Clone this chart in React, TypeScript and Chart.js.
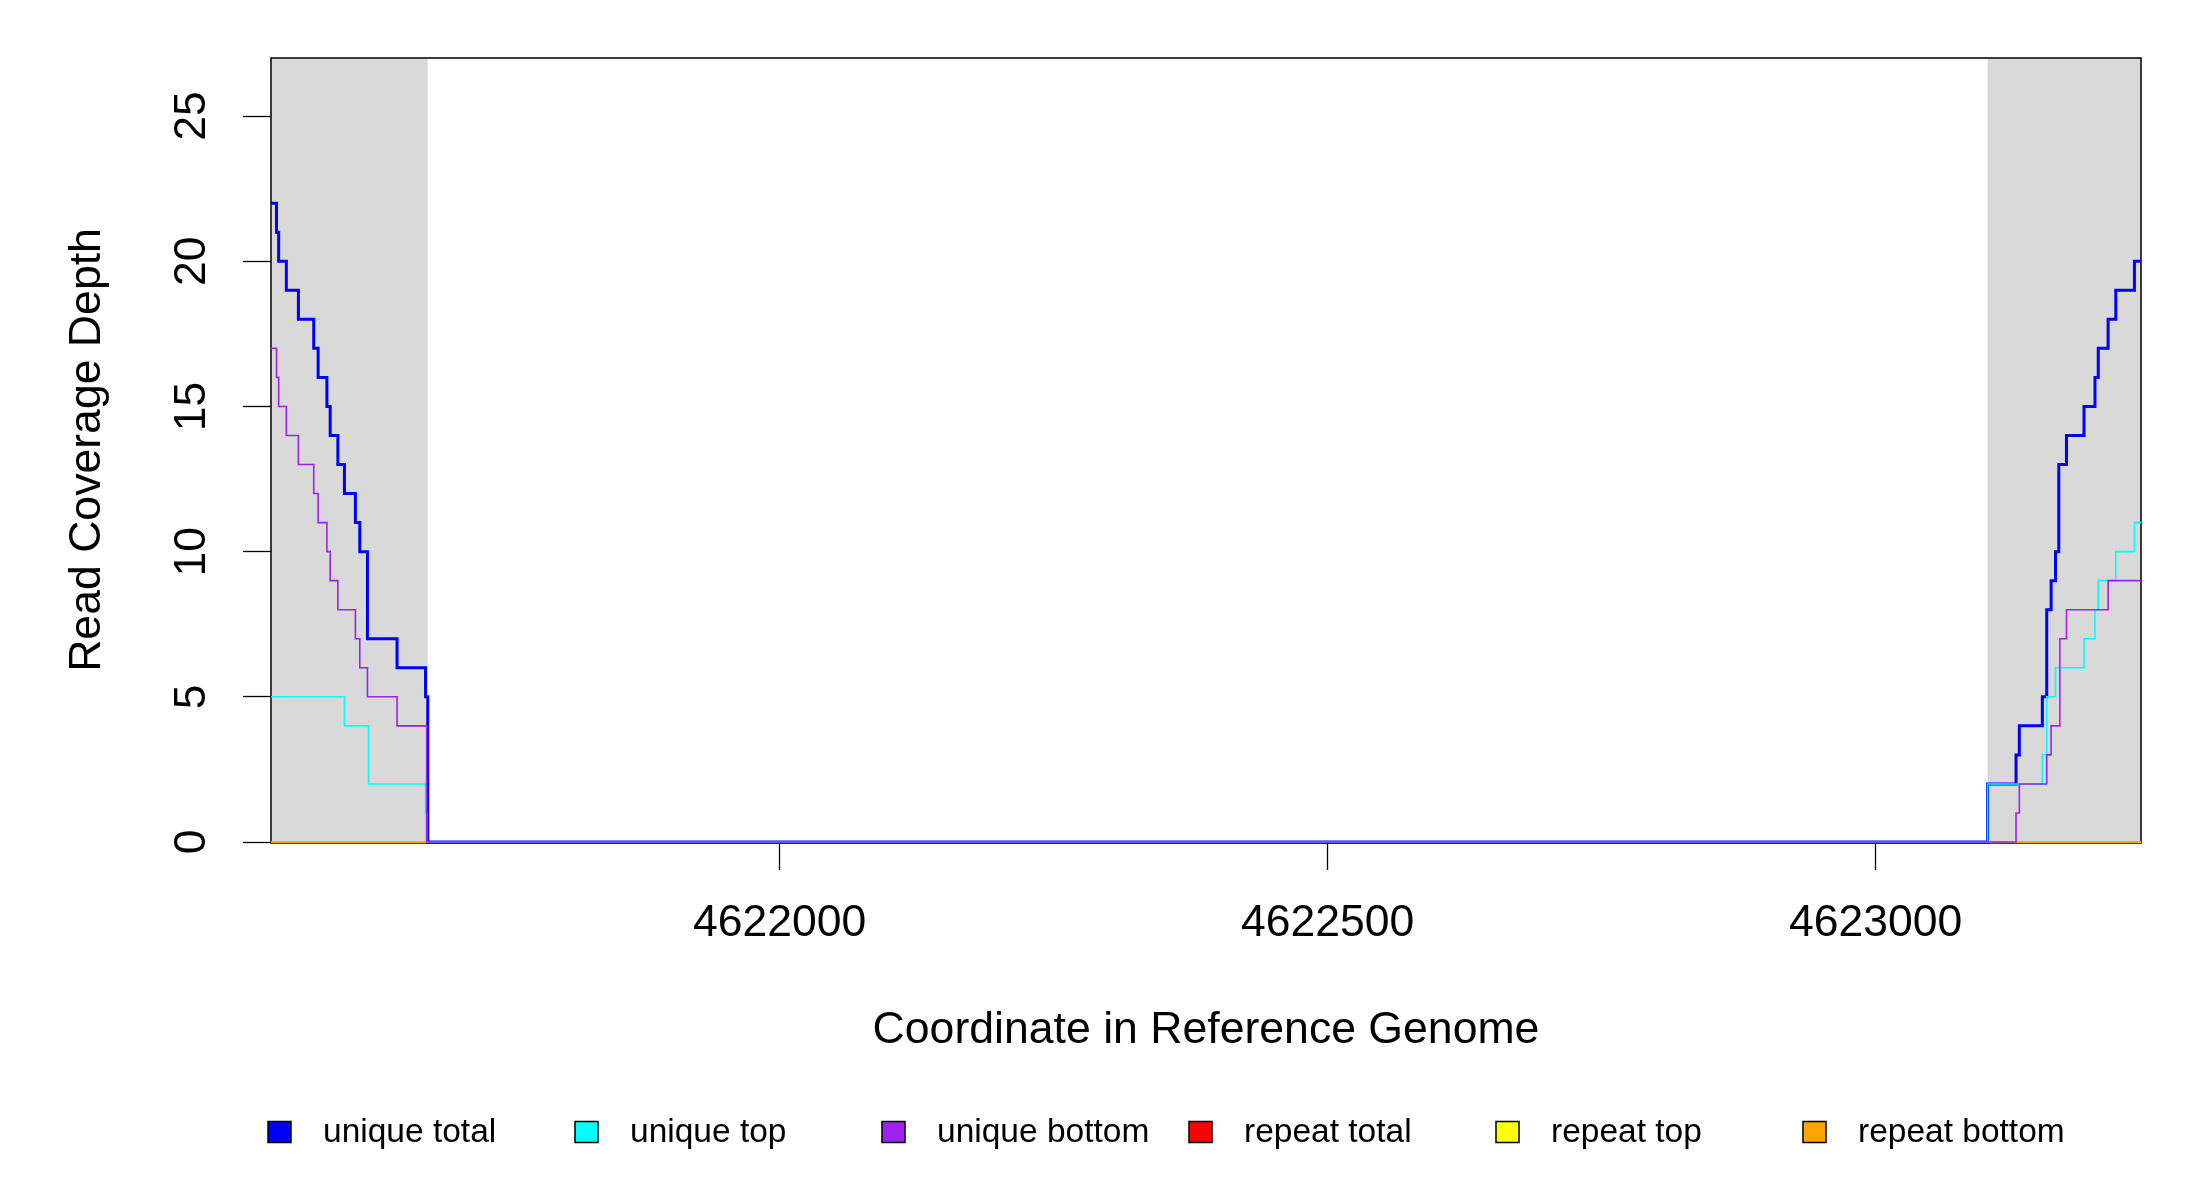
import React, { useEffect, useRef } from "react";
import { Chart, registerables } from "chart.js";

Chart.register(...registerables);

// ---- data ----
const xMin = 4621536;
const xMax = 4623242;
const xTickValues = [4622000, 4622500, 4623000];
const yTickValues = [0, 5, 10, 15, 20, 25];
const yMax = 27;
const flankLeft = [4621536, 4621679];
const flankRight = [4623102, 4623242];

const uniqueTotalX = [4621536, 4621541, 4621543, 4621550, 4621561, 4621575, 4621579, 4621587, 4621590, 4621597, 4621603, 4621613, 4621617, 4621624, 4621651, 4621677, 4621679, 4623102, 4623128, 4623131, 4623152, 4623156, 4623160, 4623164, 4623167, 4623174, 4623190, 4623200, 4623203, 4623212, 4623219, 4623236, 4623242];
const uniqueTotalY = [22, 21, 20, 19, 18, 17, 16, 15, 14, 13, 12, 11, 10, 7, 6, 5, 0, 2, 3, 4, 5, 8, 9, 10, 13, 14, 15, 16, 17, 18, 19, 20, 20];

const uniqueTopX = [4621536, 4621603, 4621625, 4621677, 4621678, 4623102, 4623152, 4623156, 4623164, 4623190, 4623200, 4623203, 4623219, 4623236, 4623242];
const uniqueTopY = [5, 4, 2, 1, 0, 2, 3, 5, 6, 7, 8, 9, 10, 11, 11];

const uniqueBottomX = [4621536, 4621541, 4621543, 4621550, 4621561, 4621575, 4621579, 4621587, 4621590, 4621597, 4621613, 4621617, 4621624, 4621651, 4621678, 4623128, 4623131, 4623156, 4623160, 4623168, 4623174, 4623212, 4623242];
const uniqueBottomY = [17, 16, 15, 14, 13, 12, 11, 10, 9, 8, 7, 6, 5, 4, 0, 1, 2, 3, 4, 7, 8, 9, 9];

const repeatX = [4621536, 4621679, 4621680, 4623102, 4623242];
const repeatTotalY = [0, 0, null, 0, 0];
const repeatTopY = [0, 0, null, 0, 0];
const repeatBottomY = [0, 0, null, 0, 0];

const legendLabels = ["unique total", "unique top", "unique bottom", "repeat total", "repeat top", "repeat bottom"];
const seriesColors = ["#0000ff", "#00ffff", "#a020f0", "#ff0000", "#ffff00", "#ffa500"];

const FONT = "'Liberation Sans', Arial, Helvetica, sans-serif";

function pts(xs: number[], ys: (number | null)[]) {
  return xs.map((x, i) => ({ x, y: ys[i] }));
}

const shadePlugin = {
  id: "shade",
  beforeDatasetsDraw(chart: any) {
    const { ctx, chartArea } = chart;
    const xs = chart.scales.x;
    ctx.save();
    ctx.fillStyle = "#d9d9d9";
    [flankLeft, flankRight].forEach((f) => {
      const a = xs.getPixelForValue(f[0]);
      const b = xs.getPixelForValue(f[1]);
      ctx.fillRect(a, chartArea.top, b - a, chartArea.bottom - chartArea.top);
    });
    ctx.strokeStyle = "#000";
    ctx.lineWidth = 1.5;
    ctx.strokeRect(chartArea.left, chartArea.top, chartArea.right - chartArea.left, chartArea.bottom - chartArea.top + 1);
    ctx.restore();
  },
  afterDraw(chart: any) {
    const { ctx, chartArea } = chart;
    ctx.save();
    const y = 1132;
    const spacing = 307;
    const x0 = chartArea.left - 3;
    ctx.font = `33.5px ${FONT}`;
    ctx.textBaseline = "middle";
    ctx.textAlign = "left";
    legendLabels.forEach((lab, i) => {
      const bx = x0 + i * spacing;
      ctx.fillStyle = seriesColors[i];
      ctx.fillRect(bx, y - 10.5, 23, 21);
      ctx.strokeStyle = "#000";
      ctx.lineWidth = 1.5;
      ctx.strokeRect(bx, y - 10.5, 23, 21);
      ctx.fillStyle = "#000";
      ctx.fillText(lab, bx + 55, y + 1);
    });
    ctx.restore();
  },
};

export default function App() {
  const ref = useRef<HTMLCanvasElement | null>(null);
  useEffect(() => {
    if (!ref.current) return;
    const mk = (label: string, data: any[], color: string, width: number, order: number) => ({
      label,
      data,
      borderColor: color,
      backgroundColor: color,
      borderWidth: width,
      pointRadius: 0,
      stepped: true,
      fill: false,
      spanGaps: false,
      clip: 10,
      order,
    });
    const chart = new Chart(ref.current, {
      type: "line",
      data: {
        datasets: [
          mk(legendLabels[0], pts(uniqueTotalX, uniqueTotalY), seriesColors[0], 3, 2),
          mk(legendLabels[1], pts(uniqueTopX, uniqueTopY), seriesColors[1], 1.6, 1),
          mk(legendLabels[2], pts(uniqueBottomX, uniqueBottomY), seriesColors[2], 1.6, 0),
          mk(legendLabels[3], pts(repeatX, repeatTotalY), seriesColors[3], 2, 5),
          mk(legendLabels[4], pts(repeatX, repeatTopY), seriesColors[4], 2, 4),
          mk(legendLabels[5], pts(repeatX, repeatBottomY), seriesColors[5], 2, 3),
        ] as any,
      },
      options: {
        animation: false,
        responsive: false,
        devicePixelRatio: 1,
        events: [],
        layout: { padding: { top: 58, right: 59, left: 0, bottom: 0 } },
        plugins: { legend: { display: false }, tooltip: { enabled: false }, title: { display: false } },
        scales: {
          x: {
            type: "linear",
            min: xMin,
            max: xMax,
            afterBuildTicks: (s: any) => {
              s.ticks = xTickValues.map((v) => ({ value: v }));
            },
            afterFit: (s: any) => {
              s.height = 358;
            },
            grid: { display: true, drawOnChartArea: false, drawTicks: true, tickLength: 28, tickColor: "#000", tickWidth: 1.3 },
            border: { display: false },
            ticks: {
              color: "#000",
              font: { family: FONT, size: 44.5 },
              padding: 27,
              maxRotation: 0,
              autoSkip: false,
              callback: (v: any) => String(v),
            },
            title: {
              display: true,
              text: "Coordinate in Reference Genome",
              color: "#000",
              font: { family: FONT, size: 44.6 },
              padding: { top: 0, bottom: 143 },
            },
          },
          y: {
            type: "linear",
            min: 0,
            max: yMax,
            afterBuildTicks: (s: any) => {
              s.ticks = yTickValues.map((v) => ({ value: v }));
            },
            afterFit: (s: any) => {
              s.width = 271;
            },
            grid: { display: true, drawOnChartArea: false, drawTicks: true, tickLength: 28, tickColor: "#000", tickWidth: 1.3 },
            border: { display: false },
            ticks: {
              color: "#000",
              font: { family: FONT, size: 44.5 },
              padding: 26,
              minRotation: 90,
              maxRotation: 90,
              crossAlign: "center",
              autoSkip: false,
              callback: (v: any) => String(v),
            },
            title: {
              display: true,
              text: "Read Coverage Depth",
              color: "#000",
              font: { family: FONT, size: 44.6 },
              padding: { top: 61, bottom: 0 },
            },
          },
        },
      } as any,
      plugins: [shadePlugin],
    });
    return () => chart.destroy();
  }, []);
  return (
    <div style={{ position: "absolute", left: 0, top: 0, width: 2200, height: 1200, background: "#fff" }}>
      <canvas ref={ref} width={2200} height={1200} style={{ display: "block", width: 2200, height: 1200 }} />
    </div>
  );
}
